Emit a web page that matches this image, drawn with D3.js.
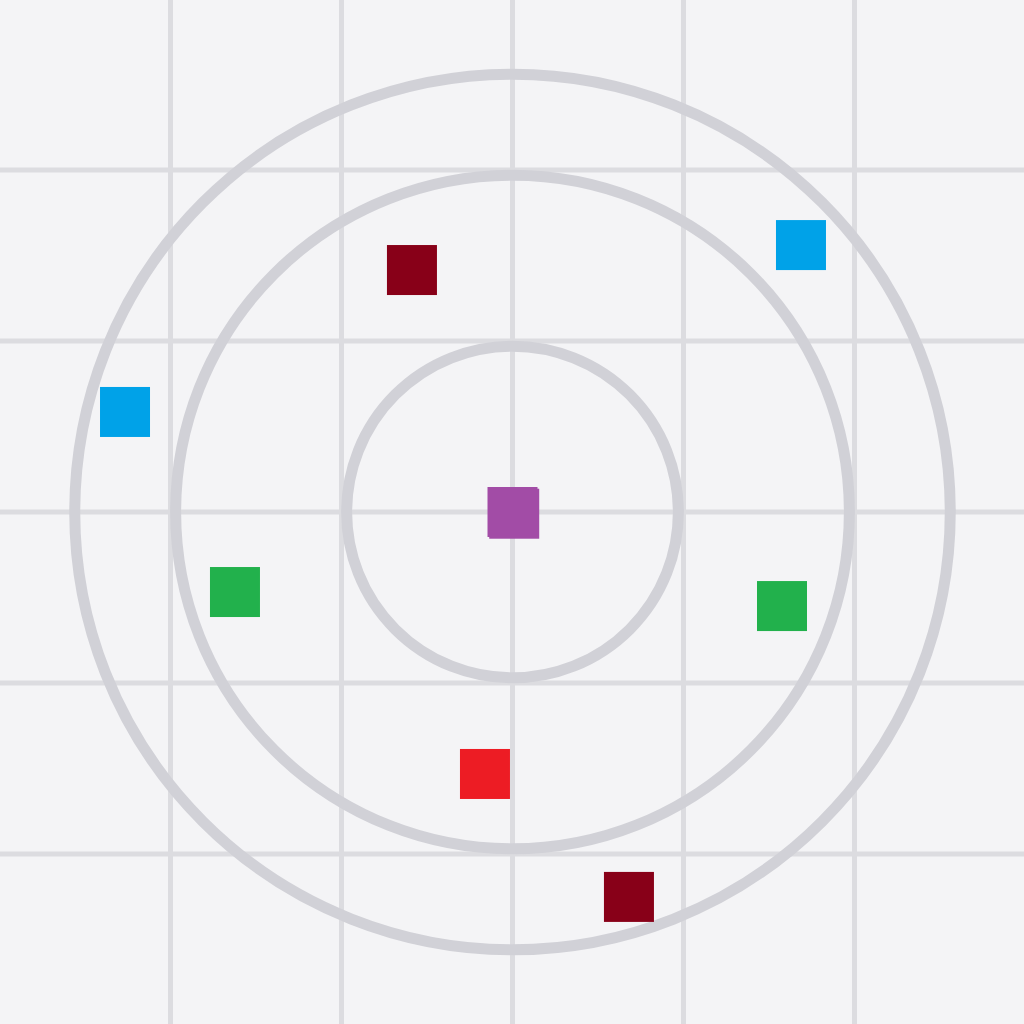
<!DOCTYPE html>
<html>
<head>
<meta charset="utf-8">
<script src="https://cdn.jsdelivr.net/npm/d3@7"></script>
<style>
html,body{margin:0;padding:0;background:#f4f4f6;}
svg{display:block;}
</style>
</head>
<body>
<svg id="chart" width="1024" height="1024"></svg>
<script>
// Data (in chart units; centre = 0,0)
const gridTicks = [-2, -1, 0, 1, 2];
const ringRadii = [0.97, 1.97, 2.56];
const pointX = [0, 0.01, -0.588, 1.687, -2.266, -1.623, 1.576, -0.161, 0.681];
const pointY = [0, -0.01, 1.415, 1.561, 0.585, -0.468, -0.550, -1.532, -2.251];
const pointGroup = ["purple", "purple", "darkred", "blue", "blue", "green", "green", "red", "darkred"];
const groupColors = {purple: "#a24ca6", darkred: "#880018", blue: "#00a2e8", green: "#22b14c", red: "#ed1c24"};

const W = 1024, H = 1024;
const svg = d3.select("#chart");
const x = d3.scaleLinear().domain([-3, 3]).range([512.5 - 3 * 171, 512.5 + 3 * 171]);
const y = d3.scaleLinear().domain([-3, 3]).range([512 + 3 * 171, 512 - 3 * 171]);
const unit = x(1) - x(0);

svg.append("rect").attr("width", W).attr("height", H).attr("fill", "#f4f4f6");

const grid = svg.append("g").attr("stroke", "#dcdce0").attr("stroke-width", 5);
grid.selectAll("line.v").data(gridTicks).join("line")
  .attr("class", "v")
  .attr("x1", d => x(d)).attr("x2", d => x(d))
  .attr("y1", 0).attr("y2", H);
grid.selectAll("line.h").data(gridTicks).join("line")
  .attr("class", "h")
  .attr("y1", d => y(d)).attr("y2", d => y(d))
  .attr("x1", 0).attr("x2", W);

svg.append("g").selectAll("circle").data(ringRadii).join("circle")
  .attr("cx", x(0)).attr("cy", y(0))
  .attr("r", d => d * unit)
  .attr("fill", "none")
  .attr("stroke", "#d1d1d7")
  .attr("stroke-width", 11);

const pts = pointX.map((v, i) => ({x: v, y: pointY[i], g: pointGroup[i]}));
const s = 50;
svg.append("g").selectAll("rect").data(pts).join("rect")
  .attr("x", d => x(d.x) - s / 2)
  .attr("y", d => y(d.y) - s / 2)
  .attr("width", s).attr("height", s)
  .attr("fill", d => groupColors[d.g]);
</script>
</body>
</html>
